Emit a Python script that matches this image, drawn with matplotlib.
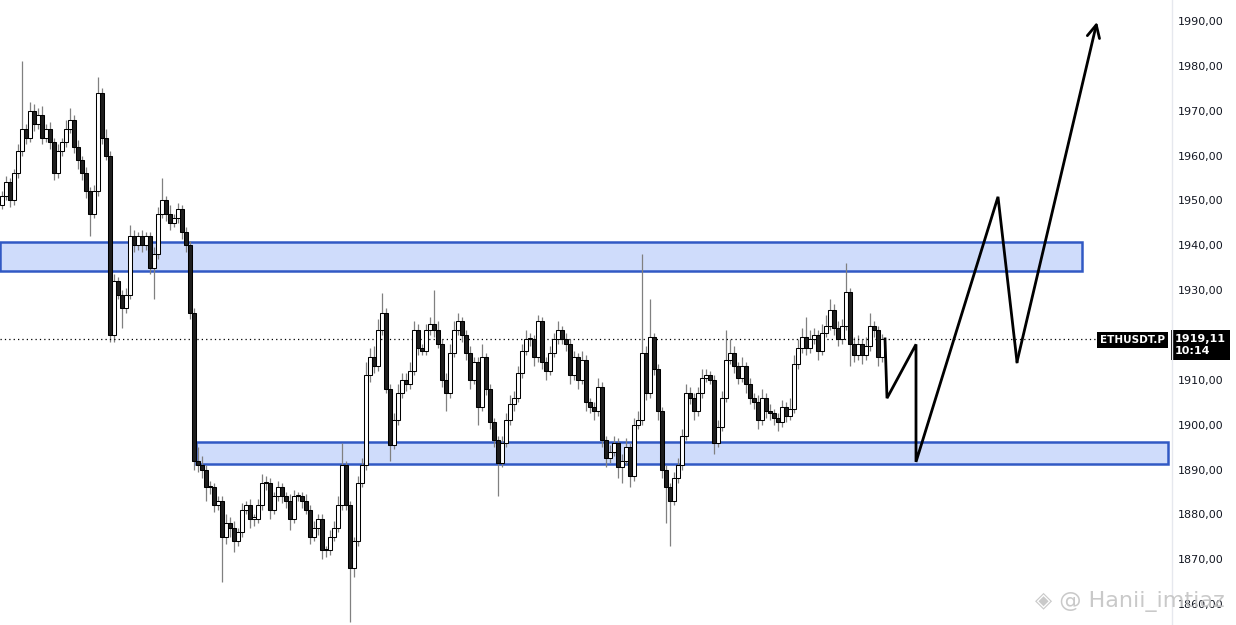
import matplotlib
matplotlib.use("Agg")
import matplotlib.pyplot as plt
import matplotlib.patches as patches
import matplotlib.transforms as mtransforms
import numpy as np

# ETHUSDT.P candles (open of each bar = previous close)
first_open = 1949
closes = [
    1951, 1954, 1950, 1956, 1961, 1966, 1964, 1970, 1967, 1969,
    1964, 1966, 1963, 1956, 1961, 1963, 1966, 1968, 1962, 1959,
    1956, 1952, 1947, 1952, 1974, 1964, 1960, 1920, 1932, 1929,
    1926, 1929, 1942, 1940, 1942, 1940, 1942, 1935, 1938, 1947,
    1950, 1947, 1945, 1946, 1948, 1943, 1940, 1925, 1892, 1891,
    1890, 1886, 1886, 1882, 1883, 1875, 1878, 1877, 1874, 1876,
    1881, 1882, 1879, 1879, 1882, 1887, 1887, 1881, 1884, 1886,
    1884, 1883, 1879, 1884, 1884, 1883, 1881, 1875, 1877, 1879,
    1872, 1872, 1875, 1877, 1882, 1891, 1882, 1868, 1874, 1887,
    1891, 1911, 1915, 1913, 1921, 1925, 1908, 1895.5, 1901, 1907,
    1910, 1909, 1912, 1921, 1917, 1916.5, 1921, 1922.5, 1921, 1918,
    1910, 1907, 1916, 1921, 1923, 1920, 1916, 1910, 1914, 1904,
    1915, 1908, 1900.5, 1896.5, 1891.5, 1896, 1901, 1904.5, 1906, 1911.5,
    1916.5, 1919, 1919, 1915, 1923, 1914, 1912, 1916, 1919, 1921,
    1919, 1918, 1911, 1915, 1910, 1914.5, 1905, 1904, 1903, 1908.5,
    1896.5, 1892.5, 1894, 1896, 1890.5, 1892, 1895, 1888.5, 1900, 1901,
    1916, 1907, 1919.5, 1912.5, 1903, 1890, 1886, 1883, 1888, 1891,
    1897.5, 1907, 1906, 1903, 1907, 1910.5, 1911, 1910, 1896, 1899.5,
    1906, 1914.5, 1916, 1913, 1910.5, 1913, 1909, 1906, 1905, 1901,
    1906, 1903, 1902.5, 1901.5, 1900.5, 1904, 1902, 1903.5, 1913.5, 1917,
    1919.5, 1917, 1919, 1920, 1916.5, 1920.5, 1922, 1925.5, 1921.5, 1919,
    1922, 1929.5, 1918, 1915.5, 1918, 1915.5, 1917.5, 1922, 1921, 1915,
    1919.11,
]
wick_up = [
    1, 1.5, 1, 1, 1.5, 15, 1, 2, 1.5, 1.5,
    2, 1, 1.5, 1, 1.5, 1, 2, 2.5, 1, 1.5,
    1, 1.5, 1, 1.5, 3.5, 1, 2, 1, 1.5, 1,
    1, 1.5, 2.5, 1.5, 1, 1.5, 1, 1, 1.5, 1.5,
    5, 1, 2, 1, 1.5, 1, 1, 1, 1, 3,
    2, 1, 1.5, 1, 1, 1, 2, 1.5, 1.5, 1,
    1.5, 1, 1.5, 1, 1.5, 2, 1.5, 1, 1, 1.5,
    1, 1, 1.5, 1.5, 1, 1, 1.5, 1, 1.5, 1,
    1, 1, 1.5, 1.5, 2, 5, 1, 1, 1, 1.5,
    1.5, 3, 2, 2.5, 2.5, 4.4, 1, 1, 1.5, 2,
    1.5, 1.5, 2, 2, 1.5, 1, 1.5, 1.5, 7.5, 2,
    1, 1.5, 2, 2, 2, 1, 1, 1.5, 1, 1,
    3, 1, 1, 1, 1, 1.5, 1.5, 2, 1.5, 1.5,
    1.5, 2, 1.5, 1, 1.5, 1, 1, 1.5, 1.5, 2,
    1, 1.5, 1, 1.5, 1, 2, 1, 1, 1, 2,
    1, 1, 1.5, 1.5, 1, 1.5, 2, 1, 1.5, 2,
    22, 1.5, 8.5, 1, 1, 1, 1, 1, 1.5, 1.5,
    1.5, 2, 1.5, 1, 1.5, 2, 1.5, 1, 1, 1.5,
    1.5, 6.5, 3, 1.5, 1, 2, 1, 1.5, 1, 1.5,
    2, 1, 1.5, 1, 1, 1.5, 1, 2.5, 2, 2,
    2, 4.5, 2, 1.5, 1, 2, 2.5, 2.5, 1.5, 1.5,
    1.5, 6.5, 1, 1.5, 2, 1, 2, 3, 1, 1,
    1,
]
wick_dn = [
    1, 1, 1.5, 1, 1, 1, 1.5, 1, 1.5, 1,
    1.5, 1, 1.5, 1.5, 1, 1, 1, 1, 1.5, 2,
    1.5, 1.5, 5, 1, 1, 1.5, 1, 1.5, 1.5, 1,
    4.5, 1, 1, 1.5, 1, 1.5, 1, 1.5, 7, 1,
    1, 1.5, 1.5, 1, 1, 1.5, 1.5, 1.5, 2, 1.5,
    2, 3, 1.5, 1.5, 1, 10, 1.5, 2, 2.5, 1,
    1, 1, 2, 1.5, 1, 1, 1.5, 2, 1, 1,
    1.5, 1.5, 2.5, 1, 1, 1.5, 1, 1.5, 1, 1.5,
    2, 1.5, 1, 1, 1, 1, 1, 12, 2, 1,
    1, 1, 1.5, 1.5, 1, 1, 1, 3.5, 1, 1,
    1, 1.5, 1, 1, 1.5, 1, 1, 1, 1.5, 1,
    1.5, 4, 1, 1, 1, 1.5, 1.5, 2, 1, 4,
    1, 1.5, 1.5, 1.5, 7.5, 1, 1, 1, 1.5, 1,
    1, 1, 1.5, 2, 1, 1.5, 2, 1, 1, 1,
    1, 1.5, 2, 1, 2, 1, 2, 1.5, 2, 1,
    1.5, 2, 1, 1, 2.5, 3.5, 1, 2.5, 1, 1,
    1, 1.5, 1, 1.5, 2, 2, 8, 10, 1, 1,
    1, 1, 1.5, 2, 1, 1, 1, 1, 2.5, 1,
    1, 1, 1, 1.5, 1.5, 1, 2, 1.5, 1.5, 2,
    1, 1.5, 1.5, 1.5, 2, 1, 1.5, 1, 1, 1,
    1, 1.5, 1, 1, 2, 1, 1, 1, 1.5, 1.5,
    1, 1, 5, 1.5, 1, 2, 1, 1, 1.5, 2,
    1,
]

# supply / demand zones: (first bar, last bar, low, high)
upper_zone = (-0.5, 270, 1934.3, 1940.7)
lower_zone = (48.5, 291.5, 1891.2, 1896.1)

# projected path drawn on the chart (bar index, price)
proj_bar = [220.75, 221.25, 228.5, 228.5, 249.0, 253.75, 273.75]
proj_price = [1919.11, 1905.9, 1917.9, 1891.7, 1950.8, 1914.0, 1989.8]

yticks = [1860, 1870, 1880, 1890, 1900, 1910, 1920, 1930, 1940, 1950, 1960, 1970, 1980, 1990]

opens = [first_open] + closes[:-1]
o = np.array(opens)
c = np.array(closes)
hi = np.maximum(o, c) + np.array(wick_up)
lo = np.minimum(o, c) - np.array(wick_dn)
idx = np.arange(len(c))
up = c >= o

fig = plt.figure(figsize=(12.36, 6.25), dpi=100)
ax = fig.add_axes([0, 0, 1172 / 1236, 1])
ax.set_xlim(-0.5, 292.5)
ax.set_ylim(1855.33, 1994.68)

# zones
for x0, x1, y0, y1 in (upper_zone, lower_zone):
    ax.add_patch(patches.Rectangle((x0, y0), x1 - x0, y1 - y0, facecolor="#cfdcfb",
                                   edgecolor="#3159c4", linewidth=1.8, zorder=1))

# candles
ax.vlines(idx, lo, hi, color="#808080", linewidth=0.9, zorder=2)
body_h = np.maximum(np.abs(c - o), 0.3)
ax.bar(idx[up], body_h[up], bottom=np.minimum(o, c)[up], width=0.92,
       color="white", edgecolor="black", linewidth=0.75, zorder=3)
ax.bar(idx[~up], body_h[~up], bottom=np.minimum(o, c)[~up], width=0.92,
       color="#1e1e1e", edgecolor="black", linewidth=0.75, zorder=3)

# last price dotted line
last = closes[-1]
ax.axhline(last, xmin=0, xmax=1100 / 1172, color="black", linestyle=(0, (1, 2.5)),
           linewidth=0.9, zorder=2)

# projection
ax.plot(proj_bar[:-1], proj_price[:-1], color="black", linewidth=2, zorder=5,
        solid_joinstyle="miter")
ax.annotate("", xy=(proj_bar[-1], proj_price[-1]), xytext=(proj_bar[-2], proj_price[-2]),
            arrowprops=dict(arrowstyle="->,head_length=0.9,head_width=0.45", color="black",
                            linewidth=2, shrinkA=0, shrinkB=0), zorder=5)

# axes styling
for s in ax.spines.values():
    s.set_visible(False)
ax.set_xticks([])
ax.yaxis.tick_right()
ax.set_yticks(yticks)
ax.set_yticklabels([f"{v:.2f}".replace(".", ",") for v in yticks])
ax.tick_params(axis="y", length=0, pad=4, labelsize=8, labelcolor="#131722")
fig.add_artist(plt.Line2D([1172 / 1236, 1172 / 1236], [0, 1], color="#e6e8ee", linewidth=1))

blend = mtransforms.blended_transform_factory(ax.transAxes, ax.transData)
ax.annotate("ETHUSDT.P", xy=(1, last), xycoords=blend, xytext=(-7, -1),
            textcoords="offset pixels", ha="right", va="center", color="white",
            fontsize=7.5, fontweight="bold", annotation_clip=False, zorder=10,
            bbox=dict(boxstyle="square,pad=0.25", fc="black", ec="none"))
ax.annotate(f"{last:.2f}".replace(".", ",") + "\n10:14", xy=(1, last), xycoords=blend,
            xytext=(3, 5), textcoords="offset pixels", ha="left", va="top", color="white",
            fontsize=8, fontweight="bold", linespacing=1.25, annotation_clip=False, zorder=10,
            bbox=dict(boxstyle="square,pad=0.35", fc="black", ec="none"))

# watermark
fig.text(1035 / 1236, 1 - 601 / 625, "\u25c8 @ Hanii_imtiaz", color="#c4c4c4",
         fontsize=16, va="center", ha="left", alpha=0.9, zorder=20)

fig.savefig("out.png", dpi=100, facecolor="white")
